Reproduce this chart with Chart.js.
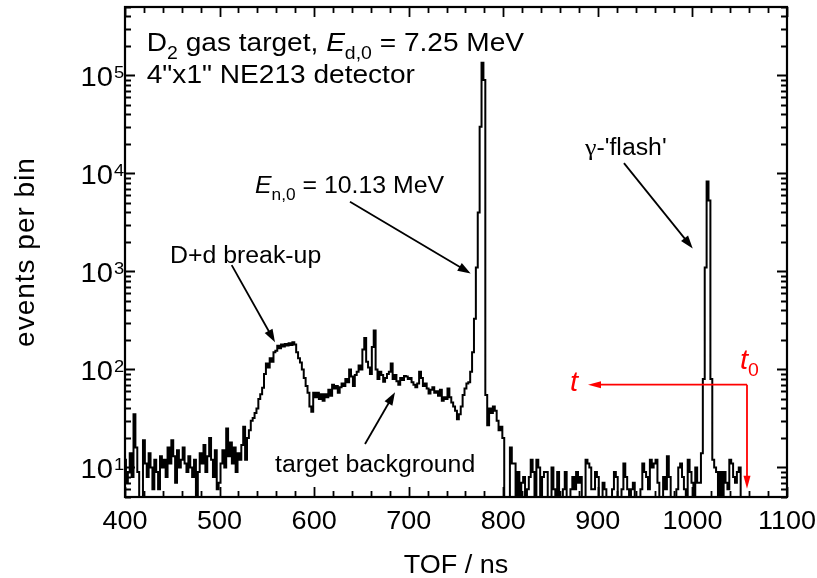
<!DOCTYPE html>
<html>
<head>
<meta charset="utf-8">
<script src="https://cdn.jsdelivr.net/npm/chart.js@4.4.1/dist/chart.umd.min.js"></script>
<style>
html, body { margin: 0; padding: 0; background: #fff; }
#wrap { width: 817px; height: 578px; }
</style>
</head>
<body>
<div id="wrap"><canvas id="tofChart" width="817" height="578"></canvas></div>
<script>
// TOF spectrum, 2 ns bins starting at 400 ns
const binStart = 400;
const binWidth = 2;
const counts = [
  12, 7, 9, 14, 8, 35, 16, 9, 3, 4,
  19, 11, 8, 14, 10, 6, 12, 9, 6, 13,
  10, 12, 8, 16, 11, 19, 13, 7, 15, 10,
  12, 16, 11, 9, 13, 10, 8, 12, 5, 9,
  14, 11, 17, 9, 13, 20, 12, 8, 15, 6,
  7, 11, 15, 10, 25, 13, 18, 11, 16, 9,
  14, 12, 17, 26, 12, 20, 24, 30, 32, 36,
  40, 50, 56, 65, 90, 115, 105, 130, 120, 150,
  155, 175, 165, 180, 172, 182, 176, 185, 178, 190,
  180, 150, 130, 118, 100, 82, 68, 58, 42, 37,
  58, 52, 58, 50, 56, 48, 56, 52, 62, 54,
  70, 64, 68, 58, 66, 72, 68, 80, 74, 100,
  85, 68, 88, 95, 110, 100, 160, 210, 120, 105,
  90, 170, 250, 100, 80, 95, 88, 75, 82, 90,
  95, 115, 80, 88, 76, 70, 82, 78, 86, 85,
  80, 82, 74, 70, 66, 72, 95, 82, 68, 72,
  64, 57, 62, 66, 58, 60, 54, 62, 48, 52,
  50, 64, 52, 46, 42, 38, 31, 35, 42, 55,
  64, 72, 74, 95, 150, 330, 1100, 4000, 30000, 135000,
  90000, 55, 27, 40, 36, 42, 38, 30, 24, 26,
  20, 3, 3, 4, 16, 11, 11, 3, 9, 3,
  7, 8, 3, 6, 8, 12, 9, 3, 12, 10,
  3, 8, 9, 9, 3, 3, 10, 6, 3, 9,
  3, 4, 6, 9, 3, 5, 6, 8, 6, 9,
  7, 8, 3, 5, 12, 11, 10, 6, 6, 9,
  8, 3, 4, 7, 6, 3, 4, 5, 6, 9,
  8, 3, 3, 6, 11, 8, 6, 3, 6, 7,
  3, 4, 5, 6, 11, 9, 8, 6, 12, 10,
  11, 12, 7, 3, 4, 8, 6, 13, 8, 5,
  3, 4, 6, 10, 11, 8, 6, 3, 12, 9,
  7, 3, 10, 7, 7, 14, 80, 1100, 8300, 5300,
  80, 12, 10, 9, 3, 9, 3, 9, 7, 6,
  12, 11, 8, 7, 9, 10, 3
];
const xTicks = [400, 500, 600, 700, 800, 900, 1000, 1100];
const yDecades = [1, 2, 3, 4, 5];

const points = counts.map((c, i) => ({ x: binStart + i * binWidth, y: c }));

const FONT = '"Liberation Sans", Arial, sans-serif';
const SX = 1.08;

function drawRuns(ctx, x, y, parts, color) {
  ctx.save();
  ctx.translate(x, y);
  ctx.scale(SX, 1);
  ctx.fillStyle = color || '#000';
  ctx.textBaseline = 'alphabetic';
  ctx.textAlign = 'left';
  let cx = 0;
  parts.forEach(p => {
    ctx.font = (p.italic ? 'italic ' : '') + p.size + 'px ' + (p.family || FONT);
    ctx.fillText(p.t, cx, p.dy || 0);
    cx += ctx.measureText(p.t).width;
  });
  ctx.restore();
}

function textWidth(ctx, t, size) {
  ctx.save();
  ctx.font = size + 'px ' + FONT;
  const w = ctx.measureText(t).width * SX;
  ctx.restore();
  return w;
}

function drawArrow(ctx, x1, y1, x2, y2, color, head, half) {
  const a = Math.atan2(y2 - y1, x2 - x1);
  const c = Math.cos(a), s = Math.sin(a);
  ctx.save();
  ctx.strokeStyle = color;
  ctx.fillStyle = color;
  ctx.lineWidth = 1.8;
  ctx.beginPath();
  ctx.moveTo(x1, y1);
  ctx.lineTo(x2 - c * head * 0.7, y2 - s * head * 0.7);
  ctx.stroke();
  ctx.beginPath();
  ctx.moveTo(x2, y2);
  ctx.lineTo(x2 - head * c + half * s, y2 - head * s - half * c);
  ctx.lineTo(x2 - head * c - half * s, y2 - head * s + half * c);
  ctx.closePath();
  ctx.fill();
  ctx.restore();
}

// annotation arrows, in data units (ns, counts)
const blackArrows = [
  [[512.8, 1160], [558.6, 190]],
  [[637.9, 5160], [765.5, 955]],
  [[927.6, 12760], [1000.3, 1720]],
  [[653.8, 17.4], [685.5, 58.7]]
];

const framePlugin = {
  id: 'framePlugin',
  afterDraw(chart) {
    const ctx = chart.ctx;
    const xs = chart.scales.x, ys = chart.scales.y;
    const a = chart.chartArea;
    const px = v => xs.getPixelForValue(v);
    const py = v => ys.getPixelForValue(v);

    // frame
    ctx.save();
    ctx.strokeStyle = '#000';
    ctx.lineWidth = 2.2;
    ctx.strokeRect(a.left, a.top, a.right - a.left, a.bottom - a.top);

    // ticks (inside, all four sides)
    ctx.lineWidth = 1.8;
    ctx.beginPath();
    for (let v = 400; v <= 1100; v += 20) {
      const len = v % 100 === 0 ? 10 : 6;
      const x = Math.round(px(v)) + 0.5;
      ctx.moveTo(x, a.bottom); ctx.lineTo(x, a.bottom - len);
      ctx.moveTo(x, a.top); ctx.lineTo(x, a.top + len);
    }
    for (let d = 0; d <= 5; d++) {
      for (let k = 1; k <= 9; k++) {
        const v = k * Math.pow(10, d);
        if (v < ys.min || v > ys.max) continue;
        const len = k === 1 ? 10 : 6;
        const y = Math.round(py(v)) + 0.5;
        ctx.moveTo(a.left, y); ctx.lineTo(a.left + len, y);
        ctx.moveTo(a.right, y); ctx.lineTo(a.right - len, y);
      }
    }
    ctx.stroke();
    ctx.restore();

    // x tick labels
    xTicks.forEach(v => {
      const w = textWidth(ctx, String(v), 25);
      drawRuns(ctx, px(v) - w / 2, 529, [{ t: String(v), size: 25 }]);
    });
    // y tick labels 10^n
    yDecades.forEach(d => {
      const y = py(Math.pow(10, d));
      const w = textWidth(ctx, '10', 27);
      drawRuns(ctx, a.left - 12 - w, y + 11, [{ t: '10', size: 27 }]);
      drawRuns(ctx, a.left - 11, y + 3, [{ t: String(d), size: 17 }]);
    });

    // axis titles
    const tw = textWidth(ctx, 'TOF / ns', 25);
    drawRuns(ctx, (a.left + a.right) / 2 - tw / 2, 573, [{ t: 'TOF / ns', size: 25 }]);
    ctx.save();
    ctx.translate(34, (a.top + a.bottom) / 2);
    ctx.rotate(-Math.PI / 2);
    ctx.font = '28px ' + FONT;
    ctx.letterSpacing = '1px';
    ctx.fillStyle = '#000';
    ctx.textAlign = 'center';
    ctx.fillText('events per bin', 0, 0);
    ctx.restore();

    // annotations
    drawRuns(ctx, px(423), py(177000), [
      { t: 'D', size: 26 }, { t: '2', size: 18, dy: 8 },
      { t: ' gas target, ', size: 26 },
      { t: 'E', size: 26, italic: true }, { t: 'd,0', size: 18, dy: 8 },
      { t: ' = 7.25 MeV', size: 26 }
    ]);
    drawRuns(ctx, px(423), py(84100), [{ t: '4"x1" NE213 detector', size: 26 }]);
    drawRuns(ctx, px(447.6), py(1220), [{ t: 'D+d break-up', size: 23 }]);
    drawRuns(ctx, px(537.5), py(6340), [
      { t: 'E', size: 23, italic: true }, { t: 'n,0', size: 16, dy: 7 },
      { t: ' = 10.13 MeV', size: 23 }
    ]);
    drawRuns(ctx, px(886.4), py(15500), [
      { t: 'γ', size: 24, family: '"Liberation Serif", serif' },
      { t: "-'flash'", size: 23 }
    ]);
    drawRuns(ctx, px(558.6), py(8.9), [{ t: 'target background', size: 23 }]);

    blackArrows.forEach(([f, t]) => {
      drawArrow(ctx, px(f[0]), py(f[1]), px(t[0]), py(t[1]), '#000', 13, 4.5);
    });

    // red t0 marker
    const red = '#ff0000';
    drawArrow(ctx, px(1057.7), py(70), px(889.6), py(70), red, 13, 3.5);
    drawArrow(ctx, px(1057.7), py(70), px(1057.7), py(6.07), red, 13, 3.5);
    drawRuns(ctx, px(870.6), py(61), [{ t: 't', size: 27, italic: true }], red);
    drawRuns(ctx, px(1050.3), py(102), [
      { t: 't', size: 27, italic: true }, { t: '0', size: 18, dy: 7 }
    ], red);
  }
};

new Chart(document.getElementById('tofChart'), {
  type: 'line',
  data: {
    datasets: [{
      label: 'TOF',
      data: points,
      borderColor: '#000',
      borderWidth: 2,
      stepped: 'middle',
      pointRadius: 0,
      fill: false
    }]
  },
  options: {
    responsive: false,
    animation: false,
    devicePixelRatio: 1,
    layout: { padding: { left: 0, right: 30, top: 7, bottom: 0 } },
    plugins: {
      legend: { display: false },
      tooltip: { enabled: false }
    },
    scales: {
      x: {
        type: 'linear',
        min: 400,
        max: 1100,
        grid: { display: false },
        border: { display: false },
        ticks: { display: false },
        afterFit: s => { s.height = 81; }
      },
      y: {
        type: 'logarithmic',
        min: 5,
        max: 500000,
        grid: { display: false },
        border: { display: false },
        ticks: { display: false },
        afterFit: s => { s.width = 125; }
      }
    }
  },
  plugins: [framePlugin]
});
</script>
</body>
</html>
